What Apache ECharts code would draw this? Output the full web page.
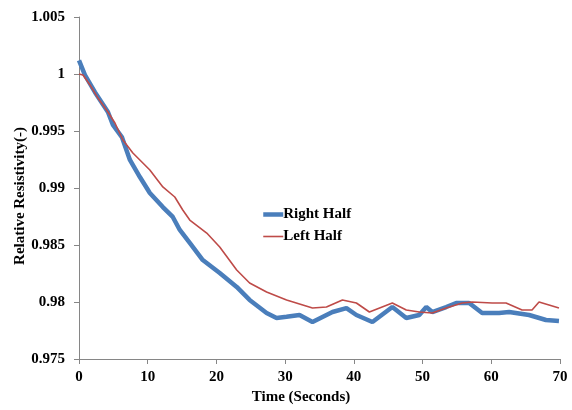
<!DOCTYPE html>
<html>
<head>
<meta charset="utf-8">
<script src="https://cdn.jsdelivr.net/npm/echarts@6/dist/echarts.min.js"></script>
<style>
html,body{margin:0;padding:0;background:#fff;}
#c{width:572px;height:410px;}
</style>
</head>
<body>
<div id="c"></div>
<script>
var seriesNames = ["Right Half", "Left Half"];
var xTicks = [0, 10, 20, 30, 40, 50, 60, 70];
var yTicks = [0.975, 0.98, 0.985, 0.99, 0.995, 1, 1.005];

var rightTime = [0, 0.87, 2.32, 4.21, 4.94, 6.24, 7.41, 8.86, 10.31, 12.2, 13.65, 14.67, 16.12, 18.01, 20.48, 22.95, 24.83, 27.3, 28.75, 30.2, 32.09, 33.98, 36.89, 38.92, 40.37, 42.7, 45.6, 47.63, 49.52, 50.54, 51.41, 53.44, 54.89, 56.78, 58.67, 61.14, 62.59, 65.5, 67.96, 69.85];
var rightValue = [1.0012, 0.9999, 0.9984, 0.99667, 0.99553, 0.99447, 0.99246, 0.99096, 0.98956, 0.98833, 0.98746, 0.98632, 0.98518, 0.98368, 0.98254, 0.98132, 0.98018, 0.97904, 0.9786, 0.9787, 0.97886, 0.97825, 0.97912, 0.97947, 0.97886, 0.97825, 0.97956, 0.9786, 0.97886, 0.97956, 0.97912, 0.97956, 0.97991, 0.97991, 0.97904, 0.97904, 0.97912, 0.97886, 0.97842, 0.97833];

var leftTime = [0, 0.58, 1.6, 2.76, 4.21, 5.23, 6.39, 7.84, 10.31, 12.2, 13.94, 15.1, 16.12, 18.59, 20.48, 22.95, 24.83, 27.3, 30.21, 33.98, 36.01, 38.34, 40.37, 42.26, 45.6, 47.63, 49.52, 51.41, 53.44, 55.77, 57.22, 60.12, 62.15, 64.48, 65.93, 66.95, 68.4, 69.85];
var leftValue = [1.0, 0.99991, 0.99904, 0.99789, 0.99667, 0.9957, 0.99421, 0.99307, 0.99158, 0.99009, 0.98921, 0.98807, 0.98719, 0.98605, 0.98482, 0.98281, 0.98167, 0.98088, 0.98018, 0.97947, 0.97956, 0.98018, 0.97991, 0.97912, 0.97991, 0.9793, 0.97912, 0.97904, 0.97947, 0.97991, 0.98, 0.97991, 0.97991, 0.9793, 0.9793, 0.98, 0.97974, 0.97947];

function pairs(t, v) { return t.map(function (x, i) { return [x, v[i]]; }); }

var font = '"Liberation Serif", "Times New Roman", serif';
var chart = echarts.init(document.getElementById('c'));
chart.setOption({
  animation: false,
  backgroundColor: '#ffffff',
  grid: { left: 79, right: 12, top: 17, bottom: 51, containLabel: false },
  xAxis: {
    type: 'value', min: xTicks[0], max: xTicks[xTicks.length - 1], interval: 10,
    axisLine: { show: true, onZero: false, lineStyle: { color: '#868686', width: 1 } },
    axisTick: { show: true, inside: false, length: 5, lineStyle: { color: '#868686' } },
    splitLine: { show: false },
    axisLabel: { color: '#000', fontFamily: font, fontWeight: 'bold', fontSize: 15, margin: 11 }
  },
  yAxis: {
    type: 'value', min: yTicks[0], max: yTicks[yTicks.length - 1], interval: 0.005,
    axisLine: { show: true, lineStyle: { color: '#868686', width: 1 } },
    axisTick: { show: true, inside: false, length: 5, lineStyle: { color: '#868686' } },
    splitLine: { show: false },
    axisLabel: { color: '#000', fontFamily: font, fontWeight: 'bold', fontSize: 15, margin: 14,
      formatter: function (v) { return String(+v.toFixed(3)); } }
  },
  legend: {
    orient: 'vertical', left: 256, top: 202, itemGap: 7, itemWidth: 20, itemHeight: 14,
    itemStyle: { opacity: 0 },
    textStyle: { color: '#000', fontFamily: font, fontWeight: 'bold', fontSize: 15, padding: [0, 0, 0, -5] },
    data: [
      { name: seriesNames[0], lineStyle: { width: 4.5, color: '#4a7ebb' } },
      { name: seriesNames[1], lineStyle: { width: 1.6, color: '#be4b48' } }
    ]
  },
  series: [
    { name: seriesNames[0], type: 'line', symbol: 'none', data: pairs(rightTime, rightValue),
      lineStyle: { color: '#4a7ebb', width: 4.5 }, itemStyle: { color: '#4a7ebb' }, z: 2 },
    { name: seriesNames[1], type: 'line', symbol: 'none', data: pairs(leftTime, leftValue),
      lineStyle: { color: '#be4b48', width: 1.6 }, itemStyle: { color: '#be4b48' }, z: 3 }
  ],
  graphic: [
    { type: 'text', x: 301, y: 397, style: { text: 'Time (Seconds)', fill: '#000', font: 'bold 15px ' + font, align: 'center', verticalAlign: 'middle' } },
    { type: 'text', x: 20, y: 196, rotation: Math.PI / 2, style: { text: 'Relative Resistivity(-)', fill: '#000', font: 'bold 15px ' + font, align: 'center', verticalAlign: 'middle' } }
  ]
});
</script>
</body>
</html>
